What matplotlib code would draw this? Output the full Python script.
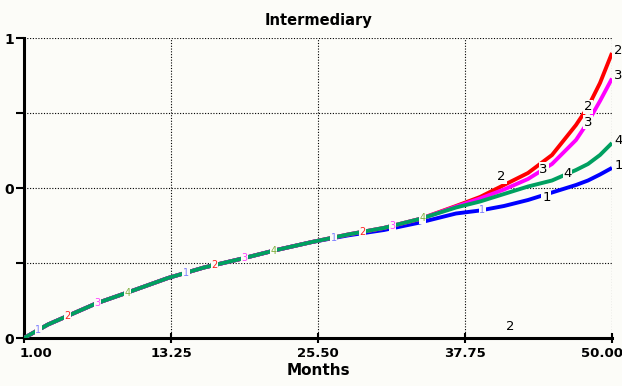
import matplotlib
matplotlib.use("Agg")
import matplotlib.pyplot as plt
import numpy as np

months = [1, 3, 5, 7, 10, 13, 16, 19, 22, 25, 28, 31, 34, 37, 39, 41, 43, 45, 47, 48, 49, 50]
s1 = [0.0, 0.045, 0.08, 0.115, 0.157, 0.2, 0.235, 0.263, 0.293, 0.32, 0.342, 0.36, 0.385, 0.415, 0.425, 0.44, 0.46, 0.485, 0.51, 0.525, 0.545, 0.567]
s2 = [0.0, 0.045, 0.08, 0.115, 0.157, 0.2, 0.235, 0.263, 0.293, 0.32, 0.345, 0.367, 0.397, 0.44, 0.47, 0.51, 0.55, 0.61, 0.71, 0.77, 0.85, 0.95]
s3 = [0.0, 0.045, 0.08, 0.115, 0.157, 0.2, 0.235, 0.263, 0.293, 0.32, 0.345, 0.367, 0.397, 0.438, 0.465, 0.495, 0.53, 0.58, 0.66, 0.72, 0.79, 0.865]
s4 = [0.0, 0.045, 0.08, 0.115, 0.157, 0.2, 0.235, 0.263, 0.293, 0.32, 0.345, 0.367, 0.397, 0.435, 0.455, 0.48, 0.505, 0.525, 0.56, 0.58, 0.61, 0.65]
series = [s1, s2, s3, s4]
names = ["1", "2", "3", "4"]
colors = ["#0000ff", "#ff0000", "#ff00ff", "#00a060"]
label_colors = ["#8080ff", "#ff2020", "#ff40ff", "#80b040"]

xticks = [1.00, 13.25, 25.50, 37.75, 50.00]
xtick_labels = ["1.00", "13.25", "25.50", "37.75", "50.00"]
yticks = [0, 0.5, 1]
ytick_labels = ["0", "0", "1"]

inline_marks = [(0, 2.2), (1, 4.6), (2, 7.1), (3, 9.6), (0, 14.5), (1, 16.9), (2, 19.4), (3, 21.8),
                (0, 26.8), (1, 29.2), (2, 31.7), (3, 34.2), (0, 39.2)]
end_marks = [(1, 41.5, -6, 4), (2, 44.3, 0, 0), (3, 46.3, 0, 0), (0, 44.3, 2, -2),
             (1, 48.0, 0, 0), (2, 48.0, 0, 0)]

bg = "#fcfcf8"
fig = plt.figure(figsize=(6.22, 3.86), dpi=100, facecolor=bg)
ax = fig.add_axes([24/622, 48/386, 588/622, 300/386], facecolor=bg)

for s, c in zip(series, colors):
    ax.plot(months, s, color=c, lw=2.8, solid_capstyle="butt", zorder=3)

for i, m in inline_marks:
    y = np.interp(m, months, series[i])
    ax.text(m, y, names[i], color=label_colors[i], fontsize=7, ha="center", va="center",
            zorder=5, bbox=dict(boxstyle="square,pad=0.05", fc=bg, ec="none"))

for i, m, dx, dy in end_marks:
    y = np.interp(m, months, series[i])
    ax.annotate(names[i], (m, y), xytext=(dx, dy), textcoords="offset points", color="black",
                fontsize=9.5, ha="center", va="center", zorder=5,
                bbox=dict(boxstyle="square,pad=0.05", fc=bg, ec="none"))

for i in range(4):
    ax.annotate(names[i], (50, series[i][-1]), xytext=(1.5, 2), textcoords="offset points",
                color="black", fontsize=9.5, ha="left", va="center", zorder=5,
                annotation_clip=False)

ax.text(41.5, 0.04, "2", color="black", fontsize=9.5, ha="center", va="center")

ax.set_xlim(1, 50)
ax.set_ylim(0, 1)
ax.set_xticks(xticks)
ax.set_xticklabels(xtick_labels, fontweight="bold", fontsize=9.5)
labs = ax.get_xticklabels()
labs[0].set_horizontalalignment("left")
labs[0].set_x(0)
labs[-1].set_horizontalalignment("right")
ax.set_yticks(yticks)
ax.set_yticklabels(ytick_labels, fontweight="bold", fontsize=10)
ax.set_yticks([0.25, 0.75], minor=True)
ax.tick_params(axis="y", which="both", direction="out", length=6, width=1.5, pad=1)
ax.tick_params(axis="x", which="both", direction="inout", length=7, width=1.5, pad=3)

import matplotlib.transforms as mtrans
off_l = mtrans.ScaledTranslation(-3/72, 0, fig.dpi_scale_trans)
off_r = mtrans.ScaledTranslation(8/72, 0, fig.dpi_scale_trans)
labs[0].set_transform(labs[0].get_transform() + off_l)
labs[-1].set_transform(labs[-1].get_transform() + off_r)

for v in xticks[1:]:
    ax.axvline(v, color="black", lw=0.8, ls=(0, (1, 1.5)), zorder=1)
for v in [0.25, 0.5, 0.75, 1.0]:
    ax.axhline(v, color="black", lw=0.8, ls=(0, (1, 1.5)), zorder=1)

for sp in ["top", "right"]:
    ax.spines[sp].set_visible(False)
for sp in ["left", "bottom"]:
    ax.spines[sp].set_linewidth(2.2)

ax.set_title("Intermediary", fontweight="bold", fontsize=10.5, pad=9)
ax.set_xlabel("Months", fontweight="bold", fontsize=11, labelpad=2)

fig.savefig("out.png", dpi=100, facecolor=bg)
